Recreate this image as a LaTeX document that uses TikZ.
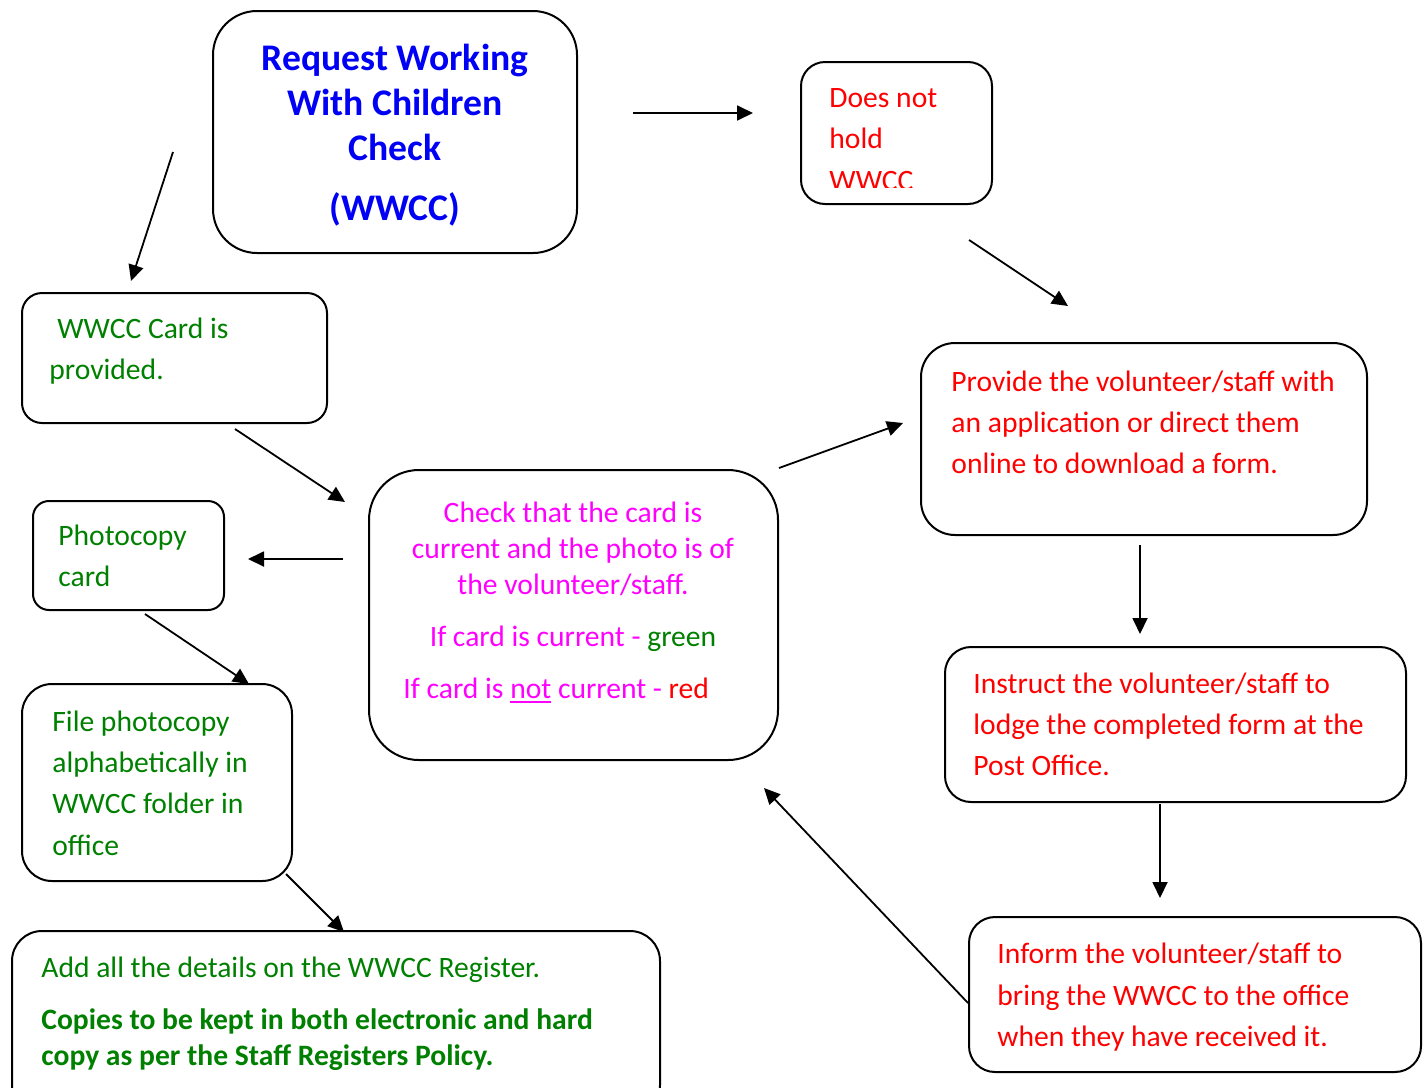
\documentclass[tikz,border=0pt]{standalone}
\usepackage{fontspec}
\setmainfont{Carlito}
\usetikzlibrary{arrows.meta,fit}
\definecolor{cgreen}{RGB}{0,128,0}
\definecolor{cred}{RGB}{255,0,0}
\definecolor{cmag}{RGB}{255,0,255}
\definecolor{cblue}{RGB}{0,0,245}
\newcommand\myul[1]{\setbox0\hbox{#1}\rlap{\textcolor{cmag}{\rule[-2.4pt]{\wd0}{1pt}}}#1}
\begin{document}
\begin{tikzpicture}[x=0.5pt,y=-0.5pt,
  box/.style={draw=black,line width=1pt,inner sep=0pt},
  txt/.style={anchor=base west,inner sep=0pt,font=\fontsize{14.8}{17}\selectfont},
  ctxt/.style={anchor=base,inner sep=0pt,font=\fontsize{14.8}{17}\selectfont},
  ttl/.style={anchor=base,inner sep=0pt,text=cblue,font=\fontsize{18.8}{22}\selectfont\bfseries},
  arr/.style={line width=0.9pt,-{Triangle[length=8pt,width=7.5pt]}}]
\useasboundingbox (0,0) rectangle (1428,1087);
% boxes
\node[box,rounded corners=22pt,fit={(213,11) (577,253)}] (title) {};
\node[box,rounded corners=12pt,fit={(801,62) (992,204)}] (nohold) {};
\node[box,rounded corners=10pt,fit={(22,293) (327,423)}] (card) {};
\node[box,rounded corners=17pt,fit={(921,343) (1367,535)}] (provide) {};
\node[box,rounded corners=25pt,fit={(369,470) (778,760)}] (check) {};
\node[box,rounded corners=8pt,fit={(33,501) (224,610)}] (photo) {};
\node[box,rounded corners=15pt,fit={(22,684) (292,881)}] (file) {};
\node[box,rounded corners=13pt,fit={(945,647) (1406,802)}] (instruct) {};
\node[box,rounded corners=15pt,fit={(12,931) (660,1115)}] (addall) {};
\node[box,rounded corners=13pt,fit={(969,917) (1421,1072)}] (inform) {};
% title text
\node[ttl] (t1) at (395,70) {Request Working};
\node[ttl] (t2) at (395,115) {With Children};
\node[ttl] (t3) at (395,160) {Check};
\node[ttl] (t4) at (395,220) {(WWCC)};
% does not hold
\node[txt,text=cred] (n1) at (829,107) {Does not};
\node[txt,text=cred] (n2) at (829,148) {hold};
\begin{scope}
\clip (801,62) rectangle (992,187);
\node[txt,text=cred] (n3) at (829,190) {WWCC};
\end{scope}
% card provided
\node[txt,text=cgreen] (c1) at (57,338) {WWCC Card is};
\node[txt,text=cgreen] (c2) at (49,379) {provided.};
% provide
\node[txt,text=cred] (p1) at (951,391) {Provide the volunteer/staff with};
\node[txt,text=cred] (p2) at (951,432) {an application or direct them};
\node[txt,text=cred] (p3) at (951,473) {online to download a form.};
% check
\node[ctxt,text=cmag] (k1) at (573,522) {Check that the card is};
\node[ctxt,text=cmag] (k2) at (573,558) {current and the photo is of};
\node[ctxt,text=cmag] (k3) at (573,594) {the volunteer/staff.};
\node[ctxt,text=cmag] (k4) at (573,646) {If card is current - \textcolor{cgreen}{green}};
\node[txt,text=cmag] (k5) at (403,698) {If card is \myul{not} current - \textcolor{cred}{red}};
% photocopy
\node[txt,text=cgreen] (h1) at (58,545) {Photocopy};
\node[txt,text=cgreen] (h2) at (58,586) {card};
% file
\node[txt,text=cgreen] (f1) at (52,731) {File photocopy};
\node[txt,text=cgreen] (f2) at (52,772) {alphabetically in};
\node[txt,text=cgreen] (f3) at (52,813) {WWCC folder in};
\node[txt,text=cgreen] (f4) at (52,855) {office};
% instruct
\node[txt,text=cred] (i1) at (973,693) {Instruct the volunteer/staff to};
\node[txt,text=cred] (i2) at (973,734) {lodge the completed form at the};
\node[txt,text=cred] (i3) at (973,775) {Post Office.};
% add all
\node[txt,text=cgreen] (a1) at (41,977) {Add all the details on the WWCC Register.};
\node[txt,text=cgreen,font=\fontsize{14.8}{17}\selectfont\bfseries] (a2) at (41,1029) {Copies to be kept in both electronic and hard};
\node[txt,text=cgreen,font=\fontsize{14.8}{17}\selectfont\bfseries] (a3) at (41,1065) {copy as per the Staff Registers Policy.};
% inform
\node[txt,text=cred] (m1) at (997,963) {Inform the volunteer/staff to};
\node[txt,text=cred] (m2) at (997,1005) {bring the WWCC to the office};
\node[txt,text=cred] (m3) at (997,1046) {when they have received it.};
% arrows
\coordinate (s1) at (173,152); \coordinate (e1) at (131,281);
\coordinate (s2) at (633,113); \coordinate (e2) at (753,113);
\coordinate (s3) at (969,240); \coordinate (e3) at (1068,306);
\coordinate (s4) at (235,429); \coordinate (e4) at (345,502);
\coordinate (s5) at (779,468); \coordinate (e5) at (903,423);
\coordinate (s6) at (343,559); \coordinate (e6) at (248,559);
\coordinate (s7) at (1140,545); \coordinate (e7) at (1140,634);
\coordinate (s8) at (145,614); \coordinate (e8) at (249,684);
\coordinate (s9) at (1160,804); \coordinate (e9) at (1160,898);
\coordinate (s10) at (286,874); \coordinate (e10) at (344,932);
\coordinate (s11) at (968,1003); \coordinate (e11) at (764,788);
\foreach \i in {1,...,11} {\draw[arr] (s\i) -- (e\i);}
\end{tikzpicture}
\end{document}
